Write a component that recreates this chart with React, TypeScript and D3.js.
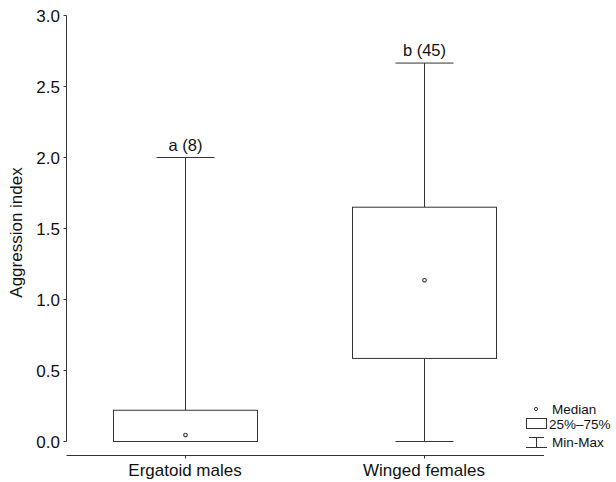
import React from "react";
import * as d3 from "d3";

const categories = ["Ergatoid males", "Winged females"];
const mins = [0, 0];
const q1s = [0, 0.585];
const medians = [0.045, 1.135];
const q3s = [0.22, 1.65];
const maxs = [2.0, 2.665];
const annotations = ["a (8)", "b (45)"];
const yTicks = [0, 0.5, 1, 1.5, 2, 2.5, 3];
const legendLabels = ["Median", "25%\u201375%", "Min-Max"];

const W = 616;
const H = 482;
const FONT = "'Liberation Sans', Arial, Helvetica, sans-serif";

export default function App() {
  const y = d3.scaleLinear().domain([0, 3]).range([441.5, 15.5]);
  const x = d3.scalePoint<string>().domain(categories).range([185, 424]);
  const boxW = 144;
  const capW = 58;
  const axisX = 66.5;
  const axisY = 455.5;

  return (
    <svg width={W} height={H} style={{ position: "absolute", left: 0, top: 0 }} fontFamily={FONT}>
      <rect width={W} height={H} fill="#fff" />
      {/* y axis */}
      <line x1={axisX} x2={axisX} y1={y(3)} y2={y(0)} stroke="#333" strokeWidth={1} />
      {yTicks.map((t) => (
        <g key={t}>
          <line x1={axisX - 3} x2={axisX} y1={y(t)} y2={y(t)} stroke="#333" />
          <text x={60} y={y(t)} dy="0.36em" textAnchor="end" fontSize={17} fill="#111">
            {d3.format(".1f")(t)}
          </text>
        </g>
      ))}
      <text
        transform={`translate(22,${(y(0) + y(3)) / 2 + 4}) rotate(-90)`}
        textAnchor="middle"
        fontSize={17}
        fill="#111"
      >
        Aggression index
      </text>
      {/* x axis */}
      <line x1={axisX} x2={544} y1={axisY} y2={axisY} stroke="#333" />
      {categories.map((c) => (
        <g key={c}>
          <line x1={x(c)! + 0.5} x2={x(c)! + 0.5} y1={axisY} y2={axisY + 3} stroke="#333" />
          <text x={x(c)!} y={476} textAnchor="middle" fontSize={17} fill="#111">
            {c}
          </text>
        </g>
      ))}
      {/* boxes */}
      {categories.map((c, i) => {
        const cx = x(c)! + 0.5;
        return (
          <g key={c} stroke="#333" fill="none">
            <line x1={cx} x2={cx} y1={y(maxs[i])} y2={y(q3s[i])} />
            <line x1={cx} x2={cx} y1={y(q1s[i])} y2={y(mins[i])} />
            <line x1={cx - capW / 2} x2={cx + capW / 2} y1={y(maxs[i])} y2={y(maxs[i])} />
            <line x1={cx - capW / 2} x2={cx + capW / 2} y1={y(mins[i])} y2={y(mins[i])} />
            <rect x={cx - boxW / 2} y={y(q3s[i])} width={boxW} height={y(q1s[i]) - y(q3s[i])} fill="#fff" />
            <circle cx={cx} cy={y(medians[i])} r={1.8} strokeWidth={1.1} fill="#fff" />
            <text
              x={cx}
              y={y(maxs[i]) - 7}
              textAnchor="middle"
              fontSize={16.5}
              fill="#111"
              stroke="none"
            >
              {annotations[i]}
            </text>
          </g>
        );
      })}
      {/* legend */}
      <g stroke="#333" fill="none">
        <circle cx={536} cy={409} r={1.6} strokeWidth={1} />
        <rect x={526.5} y={418.5} width={20} height={10} />
        <line x1={529} x2={544} y1={437.5} y2={437.5} />
        <line x1={536.5} x2={536.5} y1={437.5} y2={447.5} />
        <line x1={526} x2={547} y1={447.5} y2={447.5} />
      </g>
      <g fontSize={13.5} fill="#111">
        <text x={552} y={414}>{legendLabels[0]}</text>
        <text x={549} y={429}>{legendLabels[1]}</text>
        <text x={552} y={447}>{legendLabels[2]}</text>
      </g>
    </svg>
  );
}
